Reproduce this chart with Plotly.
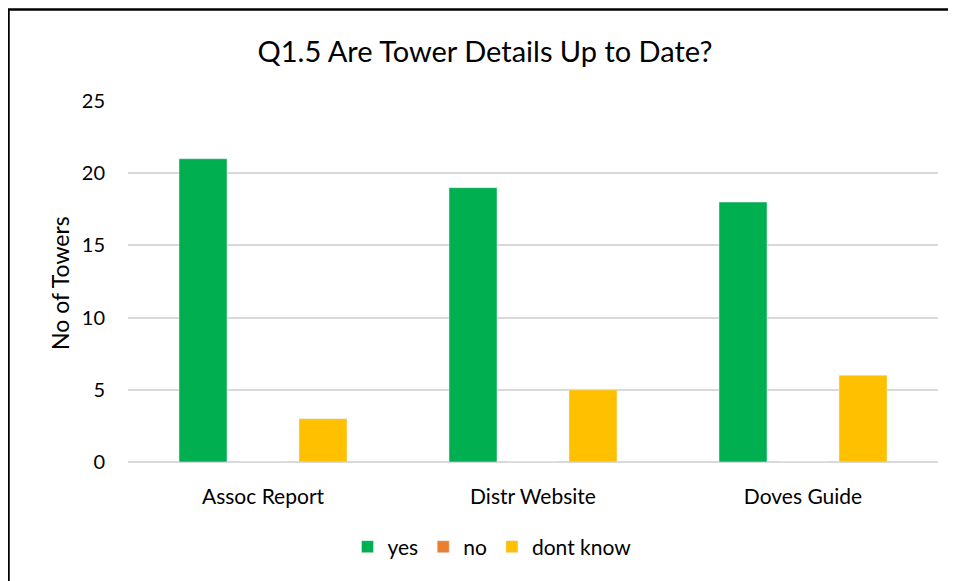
import plotly.graph_objects as go

categories = ["Assoc Report", "Distr Website", "Doves Guide"]
yes_vals = [21, 19, 18]
no_vals = [0, 0, 0]
dontknow_vals = [3, 5, 6]
y_ticks = [0, 5, 10, 15, 20, 25]

FONT = "Lato, Calibri, 'Open Sans', sans-serif"

fig = go.Figure()
fig.add_bar(name="yes", x=categories, y=yes_vals, marker_color="#00B050")
fig.add_bar(name="no", x=categories, y=no_vals, marker_color="#ED7D31")
fig.add_bar(name="dont know", x=categories, y=dontknow_vals, marker_color="#FFC000")

# page is offset by 8px body margin; work in figure coordinates
OFF = 8
W, H = 956 - OFF, 581 - OFF
L, R = 128 - OFF, 956 - 938
T, B = 101 - OFF, 581 - 462
pw, ph = W - L - R, H - T - B

def px_x(x):
    return (x - OFF - L) / pw

def px_y(y):
    return (H + OFF - B - y) / ph

fig.update_layout(
    width=W, height=H,
    margin=dict(l=L, r=R, t=T, b=B),
    paper_bgcolor="white", plot_bgcolor="white",
    barmode="group", bargap=1/3, bargroupgap=0.2,
    font=dict(family=FONT, color="#000000", size=20),
    title=dict(text="Q1.5 Are Tower Details Up to Date?", x=(485 - OFF) / W, xref="container",
               y=1 - (52 - OFF) / H, yanchor="middle", xanchor="center",
               font=dict(size=29, family=FONT, color="#000000")),
    showlegend=True,
    legend=dict(orientation="h", x=px_x(492), xanchor="center", xref="paper",
                y=1 - (547 - OFF) / H, yref="container", yanchor="middle",
                font=dict(size=21, family=FONT), itemwidth=30,
                traceorder="normal"),
    xaxis=dict(showgrid=False, showline=False, ticks="", tickfont=dict(size=21),
               ticklabelstandoff=20),
    yaxis=dict(range=[0, 25], tickvals=y_ticks, showgrid=True, gridcolor="#D9D9D9",
               gridwidth=1.5, zeroline=True, zerolinecolor="#D9D9D9", zerolinewidth=1.5,
               showline=False, ticks="", tickfont=dict(size=20), ticklabelstandoff=22),
    annotations=[
        dict(text="No of Towers", textangle=-90, xref="paper", yref="paper",
             x=px_x(60), y=px_y(283), xanchor="center", yanchor="middle",
             showarrow=False, font=dict(size=23, family=FONT, color="#000000")),
    ],
    shapes=[
        dict(type="line", xref="paper", yref="paper", x0=px_x(8.5), x1=px_x(8.5),
             y0=px_y(9), y1=px_y(600), line=dict(color="black", width=2.5)),
        dict(type="line", xref="paper", yref="paper", x0=px_x(8), x1=px_x(1000),
             y0=px_y(9.5), y1=px_y(9.5), line=dict(color="black", width=2.5)),
    ],
)

fig.write_html("out.html")
